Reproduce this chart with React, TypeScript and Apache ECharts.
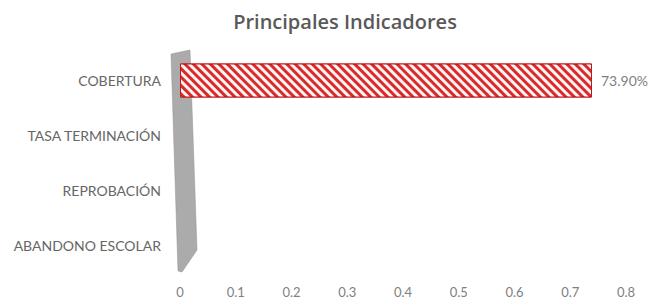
import React, { useEffect, useRef } from "react";
import * as echarts from "echarts";

const categories = ["COBERTURA", "TASA TERMINACIÓN", "REPROBACIÓN", "ABANDONO ESCOLAR"];
const values = [0.739, 0, 0, 0];
const xTicks = { min: 0, max: 0.8, interval: 0.1 };
const titleText = "Principales Indicadores";

export default function App() {
  const ref = useRef<HTMLDivElement>(null);
  useEffect(() => {
    if (!ref.current) return;
    const chart = echarts.init(ref.current, null, { renderer: "svg" });
    const font = "Lato, 'Open Sans', sans-serif";
    const barData = values.map((v) => ({
      value: v,
      itemStyle: v ? {} : { borderWidth: 0, opacity: 0 },
    }));
    chart.setOption({
      animation: false,
      backgroundColor: "#ffffff",
      title: {
        text: titleText,
        left: 340,
        textAlign: "center",
        top: 6,
        textStyle: { fontFamily: "'Open Sans', sans-serif", fontSize: 20, fontWeight: 600, color: "#595959" },
      },
      grid: { left: 180, right: 33, top: 53, bottom: 31, containLabel: false },
      xAxis: {
        type: "value",
        min: xTicks.min,
        max: xTicks.max,
        interval: xTicks.interval,
        axisLine: { show: false },
        axisTick: { show: false },
        splitLine: { show: false },
        axisLabel: {
          color: "#7f7f7f",
          fontFamily: font,
          fontSize: 13,
          margin: 12,
          formatter: (v: number) => (Math.round(v * 10) / 10).toString(),
        },
      },
      yAxis: {
        type: "category",
        data: categories,
        inverse: true,
        axisLine: { show: false },
        axisTick: { show: false },
        axisLabel: { color: "#666666", fontFamily: font, fontSize: 14, margin: 19 },
      },
      graphic: [
        {
          type: "polygon",
          z: 0,
          shape: {
            points: [
              [171, 54],
              [190, 50],
              [197, 250],
              [182, 272],
              [178, 271],
            ],
          },
          style: { fill: "#ababab", stroke: "#909090", lineWidth: 0.5 },
        },
      ],
      series: [
        {
          type: "bar",
          data: barData,
          barWidth: 34,
          z: 3,
          itemStyle: {
            color: "#d92b2b",
            borderColor: "#c01818",
            borderWidth: 1,
            decal: {
              symbol: "rect",
              dashArrayX: [1, 0],
              dashArrayY: [3, 3],
              rotation: Math.PI / 4,
              color: "rgba(255,255,255,0.95)",
            },
          },
          label: {
            show: true,
            position: "right",
            distance: 9,
            color: "#7f7f7f",
            fontFamily: font,
            fontSize: 14,
            formatter: (p: any) => (p.value ? (p.value * 100).toFixed(2) + "%" : ""),
          },
        },
      ],
    });
    return () => chart.dispose();
  }, []);
  return <div ref={ref} style={{ width: 659, height: 304, position: "absolute", left: 0, top: 0 }} />;
}
